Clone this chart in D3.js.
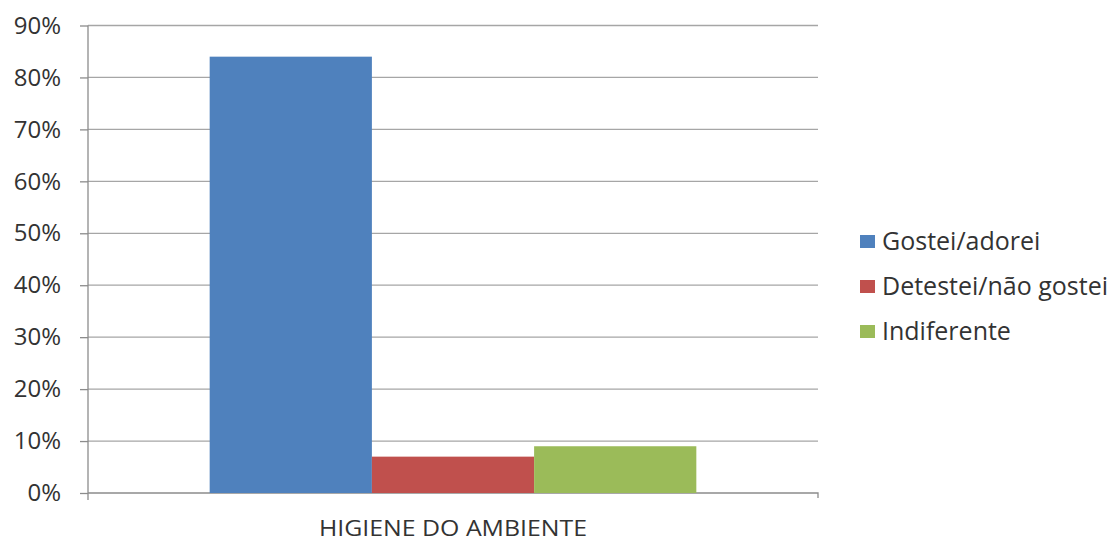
<!DOCTYPE html>
<html>
<head>
<meta charset="utf-8">
<script src="https://cdn.jsdelivr.net/npm/d3@7"></script>
<style>
  html, body { margin: 0; padding: 0; background: #fff; }
  svg { display: block; }
  text { font-family: "Open Sans", "Liberation Sans", sans-serif; fill: #333; }
</style>
</head>
<body>
<svg id="chart" width="1113" height="543"></svg>
<script>
// Survey responses for one category, as percentages
const categories = ["HIGIENE DO AMBIENTE"];
const seriesNames = ["Gostei/adorei", "Detestei/não gostei", "Indiferente"];
const seriesValues = [84, 7, 9];
const seriesColors = ["#4F81BD", "#C0504D", "#9BBB59"];
const yTicks = [0, 10, 20, 30, 40, 50, 60, 70, 80, 90];

const svg = d3.select("#chart");
const margin = { left: 88, right: 295, top: 25.5, bottom: 50 };
const W = 1113, H = 543;
const x0 = margin.left, x1 = W - margin.right;
const y0 = H - margin.bottom, y1 = margin.top;

const y = d3.scaleLinear().domain([0, 90]).range([y0, y1]);
// Category band with 150% gap width between clusters
const xCat = d3.scaleBand().domain(categories).range([x0, x1]).paddingInner(0).paddingOuter(0);
const bandW = xCat.bandwidth();
const barW = bandW / (seriesNames.length + 1.5);
const xSeries = d3.scaleBand().domain(seriesNames)
  .range([0, barW * seriesNames.length]);

// Gridlines
svg.append("g").selectAll("line").data(yTicks.slice(1)).join("line")
  .attr("x1", x0).attr("x2", x1)
  .attr("y1", d => y(d)).attr("y2", d => y(d))
  .attr("stroke", "#a6a6a6").attr("stroke-width", 1.3);

// Y axis
const yAxis = d3.axisLeft(y).tickValues(yTicks).tickFormat(d => d + "%").tickSize(8).tickPadding(19);
const gy = svg.append("g").attr("transform", `translate(${x0},0)`).call(yAxis);
gy.select(".domain").attr("stroke", "#8c8c8c").attr("stroke-width", 1.3)
  .attr("d", `M0,${y1}V${y0 + 7}`);
gy.selectAll(".tick line").attr("stroke", "#8c8c8c").attr("stroke-width", 1.3);
gy.selectAll(".tick text").attr("font-size", 24).attr("fill", "#333")
  .style("font-family", "'Open Sans', sans-serif");

// X axis (category label baseline placed just above the bottom edge)
const xAxis = d3.axisBottom(xCat).tickSize(0).tickPadding(43);
const gx = svg.append("g").attr("transform", `translate(0,${y0})`).call(xAxis);
gx.select(".domain").attr("stroke", "#8c8c8c").attr("stroke-width", 1.3)
  .attr("d", `M${x0},0H${x1}V5`);
gx.selectAll(".tick text").attr("font-size", 22).attr("fill", "#222")
  .attr("dy", "0")
  .attr("textLength", 268).attr("lengthAdjust", "spacingAndGlyphs")
  .style("font-family", "'Open Sans', sans-serif");

// Bars
const cat = categories[0];
const startX = xCat(cat) + (bandW - barW * seriesNames.length) / 2;
svg.append("g").selectAll("rect").data(seriesNames).join("rect")
  .attr("x", d => startX + xSeries(d))
  .attr("width", xSeries.bandwidth())
  .attr("y", (d, i) => y(seriesValues[i]))
  .attr("height", (d, i) => y0 - y(seriesValues[i]))
  .attr("fill", (d, i) => seriesColors[i]);

// Legend
const legend = svg.append("g").attr("transform", "translate(860,241.5)");
const item = legend.selectAll("g").data(seriesNames).join("g")
  .attr("transform", (d, i) => `translate(0,${i * 45})`);
item.append("rect").attr("x", 0).attr("y", -6.5).attr("width", 15).attr("height", 13)
  .attr("fill", (d, i) => seriesColors[i]);
item.append("text").attr("x", 22).attr("y", 0).attr("dy", "0.35em")
  .attr("font-size", 25).attr("fill", "#222").text(d => d);
</script>
</body>
</html>
